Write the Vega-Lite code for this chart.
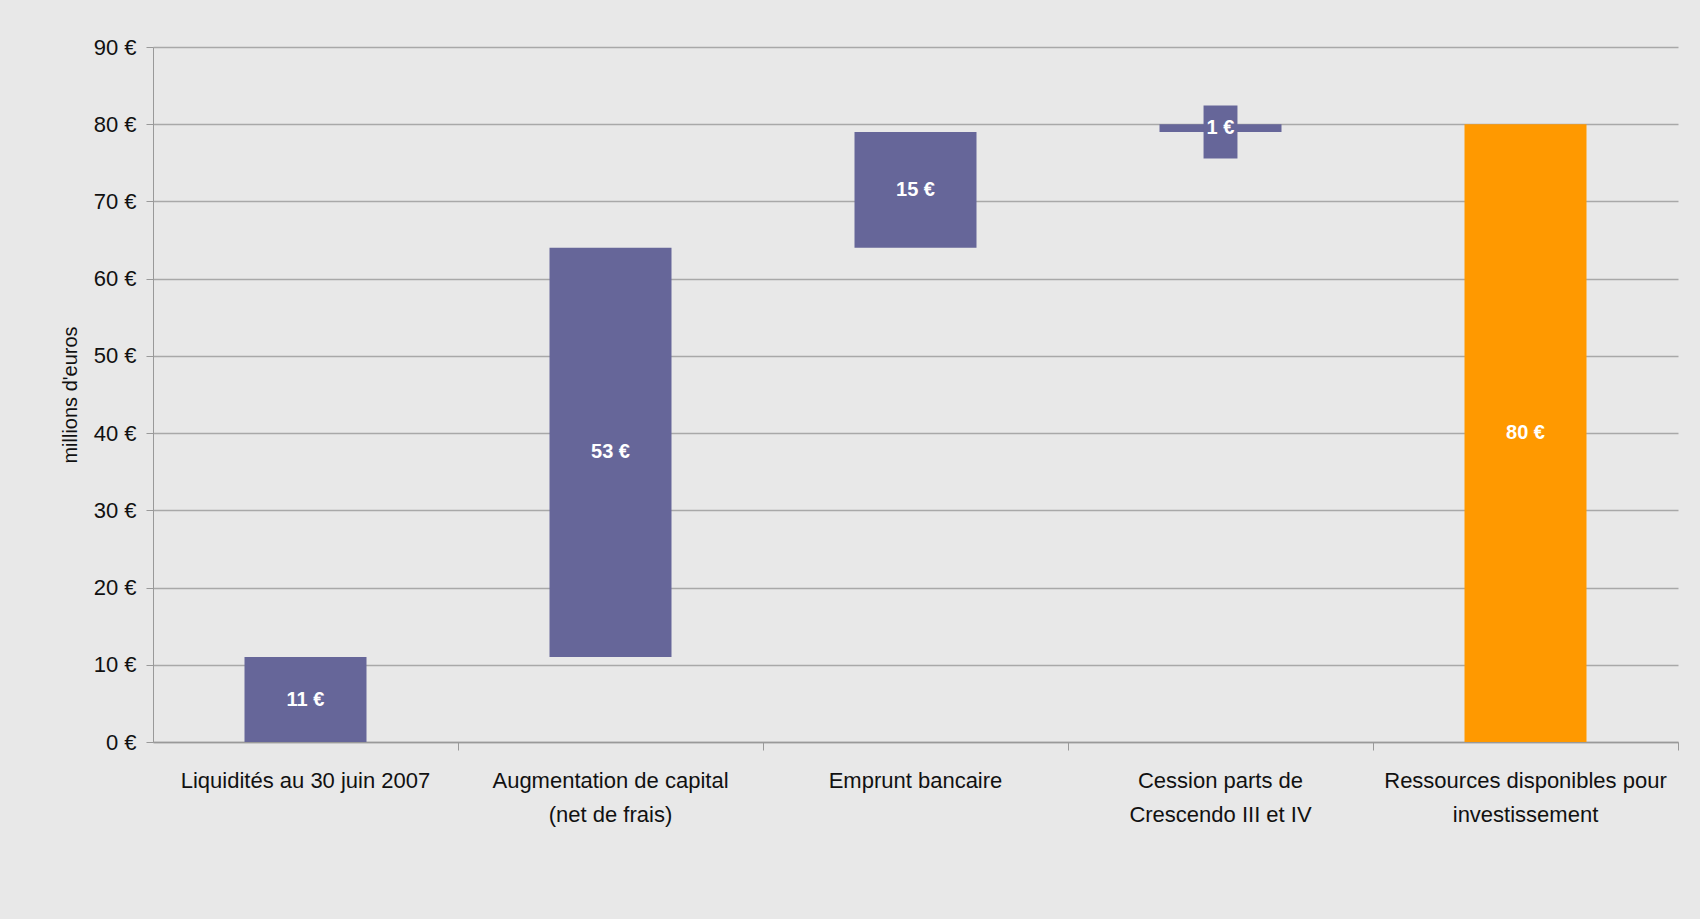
{
  "$schema": "https://vega.github.io/schema/vega-lite/v6.json",
  "width": 1525,
  "height": 695,
  "autosize": {"type": "none"},
  "padding": {"left": 153, "top": 47, "right": 22, "bottom": 177},
  "background": "#e8e8e8",
  "data": {
    "values": [
      {"cat": "Liquidités au 30 juin 2007", "start": 0, "end": 11, "label": "11 €", "kind": "step"},
      {"cat": "Augmentation de capital (net de frais)", "start": 11, "end": 64, "label": "53 €", "kind": "step"},
      {"cat": "Emprunt bancaire", "start": 64, "end": 79, "label": "15 €", "kind": "step"},
      {"cat": "Cession parts de Crescendo III et IV", "start": 79, "end": 80, "label": "1 €", "kind": "step"},
      {"cat": "Ressources disponibles pour investissement", "start": 0, "end": 80, "label": "80 €", "kind": "total"}
    ]
  },
  "transform": [{"calculate": "(datum.start + datum.end) / 2", "as": "mid"}],
  "config": {
    "font": "Liberation Sans Narrow, Arial Narrow, Liberation Sans, sans-serif",
    "view": {"stroke": null}
  },
  "encoding": {
    "x": {
      "field": "cat",
      "type": "nominal",
      "sort": null,
      "scale": {"paddingInner": 0.6, "paddingOuter": 0.3},
      "axis": {
        "title": null,
        "labelAngle": 0,
        "labelFontSize": 22,
        "labelColor": "#111111",
        "labelLineHeight": 34,
        "labelPadding": 20,
        "labelLimit": 400,
        "bandPosition": 1.75,
        "tickSize": 8,
        "tickColor": "#999999",
        "domainColor": "#999999",
        "domainWidth": 1.5,
        "grid": false,
        "labelExpr": "datum.value == 'Augmentation de capital (net de frais)' ? ['Augmentation de capital', '(net de frais)'] : datum.value == 'Cession parts de Crescendo III et IV' ? ['Cession parts de', 'Crescendo III et IV'] : datum.value == 'Ressources disponibles pour investissement' ? ['Ressources disponibles pour', 'investissement'] : datum.value"
      }
    }
  },
  "layer": [
    {
      "mark": {"type": "bar"},
      "encoding": {
        "y": {
          "field": "start",
          "type": "quantitative",
          "scale": {"domain": [0, 90], "nice": false},
          "axis": {
            "title": "millions d'euros",
            "titleFontSize": 20,
            "titleFontWeight": "normal",
            "titleColor": "#111111",
            "titlePadding": 13,
            "values": [0, 10, 20, 30, 40, 50, 60, 70, 80, 90],
            "labelExpr": "datum.value + ' €'",
            "labelFontSize": 22,
            "labelColor": "#111111",
            "labelPadding": 10,
            "tickSize": 7,
            "tickColor": "#999999",
            "domainColor": "#999999",
            "gridColor": "#a8a8a8",
            "gridWidth": 1.5
          }
        },
        "y2": {"field": "end"},
        "color": {
          "field": "kind",
          "type": "nominal",
          "scale": {"domain": ["step", "total"], "range": ["#666699", "#ff9900"]},
          "legend": null
        }
      }
    },
    {
      "transform": [{"filter": "datum.end - datum.start < 3"}],
      "mark": {"type": "point", "shape": "M-0.64,-1L0.64,-1L0.64,1L-0.64,1Z", "size": 2809, "filled": true, "opacity": 1, "color": "#666699", "yOffset": 4},
      "encoding": {
        "y": {"field": "mid", "type": "quantitative"}
      }
    },
    {
      "mark": {"type": "text", "color": "white", "fontWeight": "bold", "fontSize": 20},
      "encoding": {
        "y": {"field": "mid", "type": "quantitative"},
        "text": {"field": "label"}
      }
    }
  ]
}
